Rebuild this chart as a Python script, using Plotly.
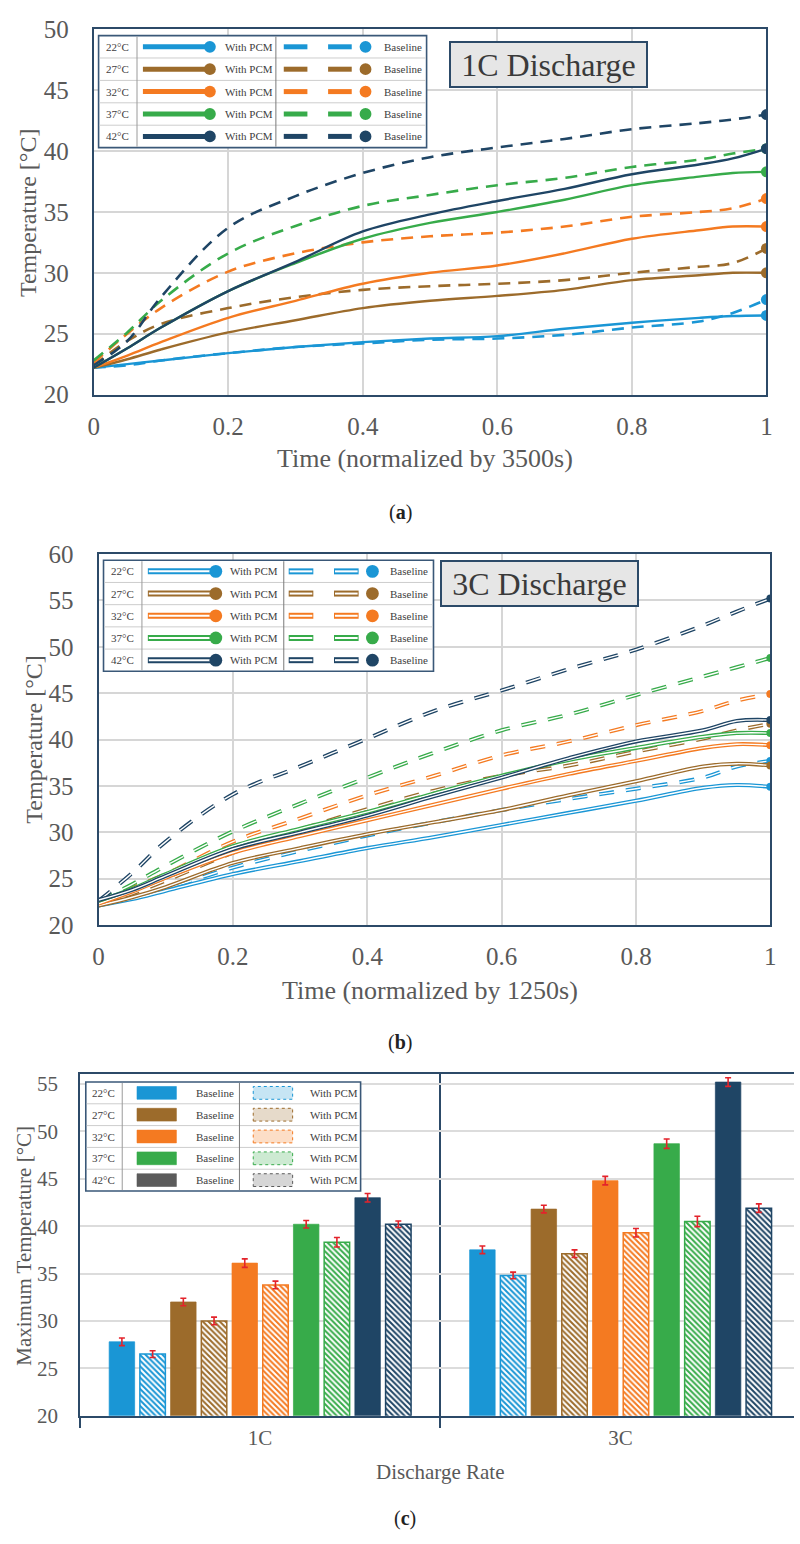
import plotly.graph_objects as go

W, H = 800, 1544
def PX(x): return x / W
def PY(y): return 1 - y / H

SERIF = "Liberation Serif"
NAVY_AX = "#2c4a68"
GRID = "#d6d6d6"
TICK_C = "#595959"
TXT_C = "#404040"

# ---------------- data ----------------
TEMPS = ["22°C", "27°C", "32°C", "37°C", "42°C"]
COLORS = ["#1a96d5", "#9c6b2b", "#f47a21", "#37ab4a", "#1f4565"]
LEG_C_BASE = ["#1a96d5", "#9c6b2b", "#f47a21", "#37ab4a", "#5b5b5b"]

T_NORM = [0, 0.05, 0.1, 0.2, 0.3, 0.4, 0.5, 0.6, 0.7, 0.8, 0.9, 0.95, 1.0]
X_TICKS = [0, 0.2, 0.4, 0.6, 0.8, 1.0]
X_TICK_TEXT = ["0", "0.2", "0.4", "0.6", "0.8", "1"]

# (a) 1C discharge
A_PCM_22 = [22.2, 22.5, 22.8, 23.4, 23.9, 24.3, 24.6, 24.8, 25.4, 25.9, 26.3, 26.45, 26.5]
A_PCM_27 = [22.2, 22.9, 23.7, 25.1, 26.1, 27.1, 27.7, 28.1, 28.6, 29.4, 29.8, 30.0, 30.0]
A_PCM_32 = [22.2, 23.2, 24.3, 26.3, 27.7, 29.1, 30.0, 30.6, 31.6, 32.8, 33.5, 33.8, 33.8]
A_PCM_37 = [22.2, 23.8, 25.5, 28.5, 30.8, 32.8, 34.1, 35.0, 36.0, 37.2, 37.9, 38.2, 38.3]
A_PCM_42 = [22.2, 23.8, 25.5, 28.5, 30.9, 33.4, 34.8, 35.9, 36.9, 38.1, 38.9, 39.4, 40.2]
A_BASE_22 = [22.2, 22.4, 22.8, 23.4, 23.9, 24.2, 24.5, 24.6, 24.9, 25.5, 26.0, 26.7, 27.8]
A_BASE_27 = [22.4, 24.4, 25.8, 27.1, 28.0, 28.6, 28.9, 29.1, 29.4, 30.0, 30.5, 30.8, 32.0]
A_BASE_32 = [22.6, 25.0, 27.1, 30.1, 31.6, 32.5, 33.0, 33.3, 33.8, 34.6, 35.0, 35.3, 36.1]
A_BASE_37 = [22.8, 25.1, 27.7, 31.6, 33.85, 35.5, 36.4, 37.2, 37.8, 38.7, 39.3, 39.8, 40.2]
A_BASE_42 = [22.4, 24.4, 28.0, 33.7, 36.3, 38.2, 39.5, 40.3, 41.0, 41.8, 42.3, 42.6, 43.0]

# (b) 3C discharge
B_PCM_22 = [22.1, 22.8, 23.7, 25.5, 26.9, 28.3, 29.5, 30.8, 32.1, 33.4, 34.8, 35.1, 34.9]
B_PCM_27 = [22.1, 23.0, 24.1, 26.7, 28.3, 29.8, 31.1, 32.4, 34.0, 35.5, 37.1, 37.4, 37.2]
B_PCM_32 = [22.3, 23.6, 25.1, 27.8, 29.6, 31.3, 33.0, 34.7, 36.3, 37.7, 39.1, 39.5, 39.4]
B_PCM_37 = [22.6, 23.9, 25.5, 28.5, 30.4, 32.2, 34.2, 36.1, 37.8, 39.1, 40.3, 40.7, 40.7]
B_PCM_42 = [22.7, 23.8, 25.3, 28.2, 30.0, 31.8, 33.9, 35.9, 38.0, 39.8, 41.0, 42.0, 42.1]
B_BASE_22 = [22.3, 23.0, 23.9, 26.2, 28.0, 29.65, 31.1, 32.4, 33.6, 34.7, 35.9, 37.1, 37.7]
B_BASE_27 = [22.3, 23.4, 24.8, 27.8, 30.3, 32.5, 34.5, 36.1, 37.2, 38.7, 40.1, 41.0, 41.7]
B_BASE_32 = [22.5, 24.0, 25.5, 29.0, 31.5, 34.0, 36.1, 38.3, 39.8, 41.55, 43.1, 44.2, 44.9]
B_BASE_37 = [22.6, 24.4, 26.4, 30.1, 33.1, 35.9, 38.6, 41.0, 42.7, 44.8, 46.8, 47.8, 48.8]
B_BASE_42 = [22.6, 25.6, 29.0, 34.1, 37.1, 40.1, 43.1, 45.3, 47.6, 49.7, 52.3, 53.8, 55.2]

# (c) maximum temperature
RATES = ["1C", "3C"]
C_BASE_22 = [27.8, 37.5]
C_PCM_22 = [26.5, 34.8]
C_BASE_27 = [32.0, 41.8]
C_PCM_27 = [30.0, 37.1]
C_BASE_32 = [36.1, 44.8]
C_PCM_32 = [33.8, 39.3]
C_BASE_37 = [40.2, 48.7]
C_PCM_37 = [38.3, 40.5]
C_BASE_42 = [43.0, 55.2]
C_PCM_42 = [40.2, 41.9]
E_BASE_22 = [0.4, 0.4]
E_PCM_22 = [0.35, 0.35]
E_BASE_27 = [0.4, 0.4]
E_PCM_27 = [0.4, 0.4]
E_BASE_32 = [0.45, 0.45]
E_PCM_32 = [0.4, 0.45]
E_BASE_37 = [0.4, 0.5]
E_PCM_37 = [0.5, 0.55]
E_BASE_42 = [0.45, 0.45]
E_PCM_42 = [0.35, 0.45]

A_PCM = [A_PCM_22, A_PCM_27, A_PCM_32, A_PCM_37, A_PCM_42]
A_BASE = [A_BASE_22, A_BASE_27, A_BASE_32, A_BASE_37, A_BASE_42]
B_PCM = [B_PCM_22, B_PCM_27, B_PCM_32, B_PCM_37, B_PCM_42]
B_BASE = [B_BASE_22, B_BASE_27, B_BASE_32, B_BASE_37, B_BASE_42]
C_BASE = [C_BASE_22, C_BASE_27, C_BASE_32, C_BASE_37, C_BASE_42]
C_PCM = [C_PCM_22, C_PCM_27, C_PCM_32, C_PCM_37, C_PCM_42]
E_BASE = [E_BASE_22, E_BASE_27, E_BASE_32, E_BASE_37, E_BASE_42]
E_PCM = [E_PCM_22, E_PCM_27, E_PCM_32, E_PCM_37, E_PCM_42]


def rgba(hexc, a):
    h = hexc.lstrip("#")
    return "rgba(%d,%d,%d,%.2f)" % (int(h[0:2], 16), int(h[2:4], 16), int(h[4:6], 16), a)


SMOOTH = 1.0
fig = go.Figure()

# ---------------- panel (a) ----------------
for i in range(5):
    c = COLORS[i]
    fig.add_trace(go.Scatter(x=T_NORM, y=A_BASE[i], mode="lines", xaxis="x", yaxis="y",
                             line=dict(color=c, width=2.6, dash="12px,8px", shape="spline", smoothing=SMOOTH),
                             showlegend=False, hoverinfo="skip"))
for i in range(5):
    c = COLORS[i]
    fig.add_trace(go.Scatter(x=T_NORM, y=A_PCM[i], mode="lines", xaxis="x", yaxis="y",
                             line=dict(color=c, width=2.4, shape="spline", smoothing=SMOOTH),
                             showlegend=False, hoverinfo="skip"))
for i in range(5):
    fig.add_trace(go.Scatter(x=[T_NORM[-1], T_NORM[-1]], y=[A_BASE[i][-1], A_PCM[i][-1]], mode="markers",
                             xaxis="x", yaxis="y", marker=dict(color=COLORS[i], size=11),
                             showlegend=False, hoverinfo="skip"))

# ---------------- panel (b) ----------------
for series, dash in ((B_BASE, "15px,12px"), (B_PCM, "solid")):
    for i in range(5):
        c = COLORS[i]
        fig.add_trace(go.Scatter(x=T_NORM, y=series[i], mode="lines", xaxis="x2", yaxis="y2",
                                 line=dict(color=c, width=4, dash=dash, shape="spline", smoothing=SMOOTH),
                                 showlegend=False, hoverinfo="skip"))
        fig.add_trace(go.Scatter(x=T_NORM, y=series[i], mode="lines", xaxis="x2", yaxis="y2",
                                 line=dict(color="white", width=1.4, dash=dash, shape="spline", smoothing=SMOOTH),
                                 showlegend=False, hoverinfo="skip"))
for i in range(5):
    fig.add_trace(go.Scatter(x=[T_NORM[-1], T_NORM[-1]], y=[B_BASE[i][-1], B_PCM[i][-1]], mode="markers",
                             xaxis="x2", yaxis="y2", marker=dict(color=COLORS[i], size=8),
                             showlegend=False, hoverinfo="skip"))

# ---------------- panel (c) ----------------
for i in range(5):
    c = COLORS[i]
    fig.add_trace(go.Bar(x=RATES, y=C_BASE[i], xaxis="x3", yaxis="y3",
                         marker=dict(color=c, line=dict(color=rgba(c, 0.7), width=1)),
                         error_y=dict(type="data", array=E_BASE[i], color="#e3232b", thickness=1.6, width=3),
                         showlegend=False, hoverinfo="skip"))
    fig.add_trace(go.Bar(x=RATES, y=C_PCM[i], xaxis="x3", yaxis="y3",
                         marker=dict(color=c, line=dict(color=c, width=1.5),
                                     pattern=dict(shape="\\", fgcolor=c, bgcolor="white", size=4,
                                                  solidity=0.5, fillmode="replace")),
                         error_y=dict(type="data", array=E_PCM[i], color="#e3232b", thickness=1.6, width=3),
                         showlegend=False, hoverinfo="skip"))

# ---------------- legends (drawn as tables) ----------------
shapes = []
annots = []

def rect(x0, y0, x1, y1, color, lw, fill="rgba(0,0,0,0)", dash="solid"):
    shapes.append(dict(type="rect", xref="paper", yref="paper", x0=PX(x0), x1=PX(x1),
                       y0=PY(y1), y1=PY(y0), line=dict(color=color, width=lw, dash=dash),
                       fillcolor=fill, layer="above"))

def seg(x0, y0, x1, y1, color, lw):
    shapes.append(dict(type="line", xref="paper", yref="paper", x0=PX(x0), x1=PX(x1),
                       y0=PY(y0), y1=PY(y1), line=dict(color=color, width=lw), layer="above"))

def dot(cx, cy, r, color):
    shapes.append(dict(type="circle", xref="paper", yref="paper", x0=PX(cx - r), x1=PX(cx + r),
                       y0=PY(cy + r), y1=PY(cy - r), line=dict(width=0), fillcolor=color, layer="above"))

def txt(x, y, s, size, color=TXT_C, angle=0, **kw):
    annots.append(dict(xref="paper", yref="paper", x=PX(x), y=PY(y), text=s, showarrow=False,
                       xanchor="center", yanchor="middle", textangle=angle,
                       font=dict(family=SERIF, size=size, color=color), **kw))

def table_frame(L, R, T, B, c1, c2):
    rect(L, T, R, B, "#3a5878", 1.6, fill="white")
    rh = (B - T) / 5
    for k in range(1, 5):
        seg(L + 1, T + k * rh, R - 1, T + k * rh, "#cdcdcd", 1)
    seg(c1, T + 1, c1, B - 1, "#9a9a9a", 1)
    seg(c2, T + 1, c2, B - 1, "#7a7a7a", 1)
    return rh

def line_legend(L, R, T, B, c1, c2, tx, p0, p1, ptxt, d1, d2, mk, btxt, r, outline):
    rh = table_frame(L, R, T, B, c1, c2)
    for i in range(5):
        cy = T + (i + 0.5) * rh
        c = COLORS[i]
        txt(tx, cy, TEMPS[i], 11)
        for (a, b) in ((p0, p1), d1, d2):
            if outline:
                seg(a, cy, b, cy, c, 6)
                seg(a + 1, cy, b - 1, cy, "white", 2)
            else:
                seg(a, cy, b, cy, c, 5)
        dot(p1, cy, r, c)
        dot(mk, cy, r, c)
        txt(ptxt, cy, "With PCM", 11)
        txt(btxt, cy, "Baseline", 11)

line_legend(94, 427, 23, 137, 133, 274, 113, 139, 207, 247, (282, 306), (327, 351), 365, 403, 6, False)
line_legend(99, 434, 557, 670, 138, 282, 118, 144, 213, 252, (287, 312), (333, 358), 372, 409, 6.5, True)

# legend (c)
rh = table_frame(81, 360, 1088, 1199, 118, 237)
for i in range(5):
    cy = 1088 + (i + 0.5) * rh
    c = LEG_C_BASE[i]
    txt(99, cy, TEMPS[i], 11)
    rect(133, cy - 6.5, 173, cy + 6.5, rgba(c, 0.6), 1, fill=c)
    txt(212, cy, "Baseline", 11)
    rect(251, cy - 6.5, 291, cy + 6.5, c, 1, fill=rgba(c, 0.25), dash="dot")
    txt(333, cy, "With PCM", 11)

# title boxes
for (cx, cy, s) in ((550.5, 52.5, "1C Discharge"), (542, 580.5, "3C Discharge")):
    annots.append(dict(xref="paper", yref="paper", x=PX(cx), y=PY(cy), text=s, showarrow=False,
                       xanchor="center", yanchor="middle", width=189, height=37, borderpad=3,
                       bgcolor="#e6e6e6", bordercolor="#2c4a68", borderwidth=2,
                       font=dict(family=SERIF, size=32, color="#3a3a3a")))

# axis titles & captions
txt(23, 203, "Temperature [°C]", 24, TICK_C, angle=-90)
txt(425, 453, "Time (normalized by 3500s)", 26, TICK_C)
txt(400, 508, "(<b>a</b>)", 20, "#222")
txt(28, 739, "Temperature [°C]", 24, TICK_C, angle=-90)
txt(430, 995, "Time (normalized by 1250s)", 26, TICK_C)
txt(400, 1048, "(<b>b</b>)", 20, "#222")
txt(18, 1255, "Maximum Temperature [°C]", 21, TICK_C, angle=-90)
txt(441, 1485, "Discharge Rate", 21, TICK_C)
txt(405, 1532, "(<b>c</b>)", 20, "#222")

tickfont_big = dict(family=SERIF, size=25, color=TICK_C)
tickfont_c = dict(family=SERIF, size=21, color=TICK_C)

line_axis = dict(showline=True, mirror=True, linecolor=NAVY_AX, linewidth=2, zeroline=False,
                 showgrid=True, gridcolor=GRID, gridwidth=1.5, ticks="")

fig.update_layout(
    width=W, height=H, margin=dict(l=0, r=0, t=0, b=0),
    paper_bgcolor="white", plot_bgcolor="white",
    barmode="group", bargap=0.148, bargroupgap=0.17,
    showlegend=False,
    xaxis=dict(domain=[PX(89), PX(772)], anchor="y", range=[0, 1], tickvals=X_TICKS,
               ticktext=X_TICK_TEXT, tickfont=tickfont_big, ticklabelstandoff=8, **line_axis),
    yaxis=dict(domain=[PY(388.3), PY(16.7)], anchor="x", range=[20, 50], dtick=5,
               tickfont=tickfont_big, ticklabelstandoff=18, **line_axis),
    xaxis2=dict(domain=[PX(94), PX(776)], anchor="y2", range=[0, 1], tickvals=X_TICKS,
                ticktext=X_TICK_TEXT, tickfont=tickfont_big, ticklabelstandoff=8, **line_axis),
    yaxis2=dict(domain=[PY(928.3), PY(550.7)], anchor="x2", range=[20, 60], dtick=5,
                tickfont=tickfont_big, ticklabelstandoff=18, **line_axis),
    xaxis3=dict(domain=[PX(75), 1.0], anchor="y3", type="category", range=[-0.5, 1.481],
                showline=True, mirror=True, linecolor=NAVY_AX, linewidth=2,
                tickson="boundaries", ticks="outside", ticklen=10, tickcolor=NAVY_AX, tickwidth=1.5,
                showgrid=True, gridcolor=NAVY_AX, gridwidth=1.5, tickfont=tickfont_c,
                ticklabelstandoff=2),
    yaxis3=dict(domain=[PY(1427.7), PY(1080)], anchor="x3", range=[20, 56.04],
                tickvals=[20, 25, 30, 35, 40, 45, 50, 55], showline=True, linecolor=NAVY_AX,
                linewidth=1.5, showgrid=True, gridcolor="#dcdcdc", gridwidth=2, zeroline=False,
                ticks="", tickfont=tickfont_c, ticklabelstandoff=16),
    shapes=shapes, annotations=annots,
)

fig.write_html("out.html")
